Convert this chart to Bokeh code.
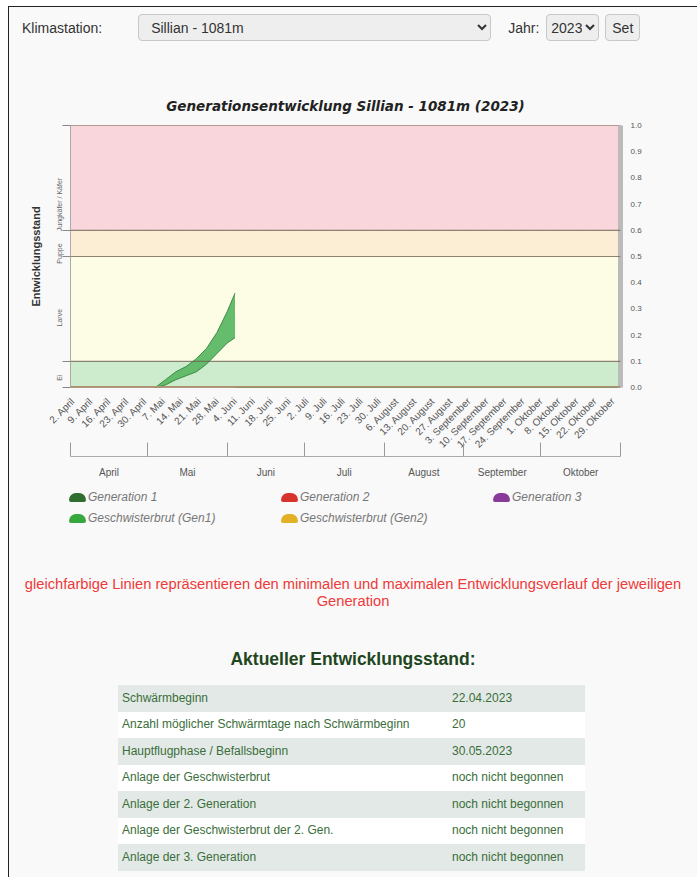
import pandas as pd
from math import pi
from bokeh.plotting import figure
from bokeh.models import (Range1d, LinearAxis, FixedTicker, Div,
                          BoxAnnotation, Span, ColumnDataSource)
from bokeh.layouts import column
from bokeh.embed import file_html
from bokeh.resources import INLINE

# ---------------- data ----------------
station = "Sillian - 1081m"
year = "2023"
chart_title = "Generationsentwicklung Sillian - 1081m (2023)"

week_ticks = ["2023-04-02", "2023-04-09", "2023-04-16", "2023-04-23", "2023-04-30",
              "2023-05-07", "2023-05-14", "2023-05-21", "2023-05-28",
              "2023-06-04", "2023-06-11", "2023-06-18", "2023-06-25",
              "2023-07-02", "2023-07-09", "2023-07-16", "2023-07-23", "2023-07-30",
              "2023-08-06", "2023-08-13", "2023-08-20", "2023-08-27",
              "2023-09-03", "2023-09-10", "2023-09-17", "2023-09-24",
              "2023-10-01", "2023-10-08", "2023-10-15", "2023-10-22", "2023-10-29"]
week_labels = ["2. April", "9. April", "16. April", "23. April", "30. April",
               "7. Mai", "14. Mai", "21. Mai", "28. Mai",
               "4. Juni", "11. Juni", "18. Juni", "25. Juni",
               "2. Juli", "9. Juli", "16. Juli", "23. Juli", "30. Juli",
               "6. August", "13. August", "20. August", "27. August",
               "3. September", "10. September", "17. September", "24. September",
               "1. Oktober", "8. Oktober", "15. Oktober", "22. Oktober", "29. Oktober"]

month_bounds = ["2023-04-01", "2023-05-01", "2023-06-01", "2023-07-01",
                "2023-08-01", "2023-09-01", "2023-10-01", "2023-11-01"]
month_names = ["April", "Mai", "Juni", "Juli", "August", "September", "Oktober"]

stage_bounds = [0.0, 0.1, 0.5, 0.6, 1.0]
stage_names = ["Ei", "Larve", "Puppe", "Jungkäfer / Käfer"]
right_ticks = [0.0, 0.1, 0.2, 0.3, 0.4, 0.5, 0.6, 0.7, 0.8, 0.9, 1.0]

gen1_dates = ["2023-05-04", "2023-05-08", "2023-05-12", "2023-05-16", "2023-05-20",
              "2023-05-24", "2023-05-28", "2023-06-01", "2023-06-04"]
gen1_min = [0.0, 0.01, 0.03, 0.045, 0.06, 0.09, 0.13, 0.17, 0.19]
gen1_max = [0.0, 0.03, 0.06, 0.08, 0.11, 0.15, 0.21, 0.29, 0.36]

gesch1_dates = ["2023-06-04", "2023-10-31"]
gesch1_vals = [0.0, 0.0]

legend_row1 = ["Generation 1", "Generation 2", "Generation 3"]
legend_row2 = ["Geschwisterbrut (Gen1)", "Geschwisterbrut (Gen2)"]

note_text = ("gleichfarbige Linien repräsentieren den minimalen und maximalen "
             "Entwicklungsverlauf der jeweiligen Generation")
status_title = "Aktueller Entwicklungsstand:"
status_keys = ["Schwärmbeginn", "Anzahl möglicher Schwärmtage nach Schwärmbeginn",
               "Hauptflugphase / Befallsbeginn", "Anlage der Geschwisterbrut",
               "Anlage der 2. Generation", "Anlage der Geschwisterbrut der 2. Gen.",
               "Anlage der 3. Generation"]
status_vals = ["22.04.2023", "20", "30.05.2023", "noch nicht begonnen",
               "noch nicht begonnen", "noch nicht begonnen", "noch nicht begonnen"]

# ---------------- styles ----------------
FONT = "Liberation Sans"
BG = "#f9f9f9"
stage_colors = ["#cdebcd", "#fdfde6", "#fcedd5", "#f9d6dc"]
row1_colors = ["#2f6e2f", "#d8322c", "#8a3a9a"]
row2_colors = ["#36a83e", "#e2b025"]


def ms(d):
    return int(pd.Timestamp(d).value // 10**6)


wt = [ms(d) for d in week_ticks]
mb = [ms(d) for d in month_bounds]
mm = [(a + b) // 2 for a, b in zip(mb[:-1], mb[1:])]

p = figure(x_axis_type="datetime", y_axis_location="right",
           width=678, height=412,
           x_range=Range1d(mb[0], mb[-1]), y_range=Range1d(0, 1),
           output_backend="svg", toolbar_location=None,
           min_border_left=61, min_border_right=67, min_border_top=56, min_border_bottom=94,
           background_fill_color=stage_colors[1], border_fill_color=BG,
           outline_line_color="#9a8a7a")

p.title.text = chart_title
p.title.align = "center"
p.title.text_font = "DejaVu Sans"
p.title.text_font_style = "bold italic"
p.title.text_font_size = "13.5px"
p.title.text_color = "#222222"
p.title.standoff = 24

# stage bands
for b0, b1, c in zip(stage_bounds[:-1], stage_bounds[1:], stage_colors):
    p.add_layout(BoxAnnotation(bottom=b0, top=b1, fill_color=c, fill_alpha=1.0,
                               line_color=None, level="underlay"))
for b in stage_bounds[1:-1]:
    p.add_layout(Span(location=b, dimension="width", line_color="#6e6050",
                      line_alpha=0.75, line_width=1.2))
p.add_layout(Span(location=0, dimension="width", line_color="#b0906e",
                  line_width=3))

# grids
p.xgrid.grid_line_color = "#8a7a6a"
p.xgrid.grid_line_alpha = 0.55
p.ygrid.grid_line_color = "#8a7a6a"
p.ygrid.grid_line_alpha = 0.45

# right axis (default y axis)
ry = p.yaxis[0]
ry.ticker = FixedTicker(ticks=right_ticks)
ry.major_label_overrides = {t: f"{t:.1f}" for t in right_ticks}
ry.axis_line_color = "#bbbbbb"
ry.axis_line_width = 5
ry.major_tick_line_color = None
ry.minor_tick_line_color = None
ry.major_label_text_font = FONT
ry.major_label_text_font_size = "8px"
ry.major_label_text_color = "#555555"
ry.major_label_standoff = 4

# left stage axis
ly = LinearAxis(ticker=FixedTicker(ticks=[(a + b) / 2 for a, b in zip(stage_bounds[:-1], stage_bounds[1:])],
                                   minor_ticks=stage_bounds),
                major_label_overrides={(a + b) / 2: n for a, b, n in
                                       zip(stage_bounds[:-1], stage_bounds[1:], stage_names)},
                major_label_orientation=pi / 2,
                axis_label="Entwicklungsstand")
ly.major_tick_line_color = None
ly.minor_tick_in = 0
ly.minor_tick_out = 8
ly.minor_tick_line_color = "#888888"
ly.axis_line_color = "#aaaaaa"
ly.major_label_text_font = FONT
ly.major_label_text_font_size = "7px"
ly.major_label_text_color = "#666666"
ly.major_label_standoff = 3
ly.axis_label_text_font = FONT
ly.axis_label_text_font_style = "bold"
ly.axis_label_text_font_size = "11px"
ly.axis_label_text_color = "#333333"
ly.axis_label_standoff = 8
p.add_layout(ly, "left")

# date axis
dx = p.xaxis[0]
dx.ticker = FixedTicker(ticks=wt)
dx.major_label_overrides = {t: l for t, l in zip(wt, week_labels)}
dx.major_label_orientation = pi / 4
dx.major_label_text_font = FONT
dx.major_label_text_font_size = "10px"
dx.major_label_text_color = "#555555"
dx.axis_line_color = None
dx.major_tick_line_color = None
dx.minor_tick_line_color = None
dx.major_label_standoff = 6

# month axis
mx = LinearAxis(ticker=FixedTicker(ticks=mm, minor_ticks=mb),
                major_label_overrides={t: n for t, n in zip(mm, month_names)})
mx.major_tick_line_color = None
mx.minor_tick_in = 14
mx.minor_tick_out = 0
mx.minor_tick_line_color = "#999999"
mx.axis_line_color = "#aaaaaa"
mx.major_label_text_font = FONT
mx.major_label_text_font_size = "10px"
mx.major_label_text_color = "#555555"
mx.major_label_standoff = 4
p.add_layout(mx, "below")

# data
src = ColumnDataSource(dict(x=pd.to_datetime(gen1_dates), lo=gen1_min, hi=gen1_max))
p.varea(x="x", y1="lo", y2="hi", source=src, fill_color="#5db865", fill_alpha=0.95)
p.line(x="x", y="lo", source=src, line_color="#3d8b45", line_width=1)
p.line(x="x", y="hi", source=src, line_color="#3d8b45", line_width=1)
p.line(x=pd.to_datetime(gesch1_dates), y=gesch1_vals, line_color="#3d8b45", line_width=2)

# ---------------- legend (HTML) ----------------
def leg_item(label, color):
    return (f'<div style="display:flex;align-items:center;width:212px;">'
            f'<span style="display:inline-block;width:17px;height:9px;background:{color};'
            f'border-radius:7px 7px 2px 2px;margin-right:2px;"></span>'
            f'<span>{label}</span></div>')


leg_rows = ""
for labels, cols in ((legend_row1, row1_colors), (legend_row2, row2_colors)):
    leg_rows += ('<div style="display:flex;height:21px;align-items:center;">'
                 + "".join(leg_item(l, c) for l, c in zip(labels, cols)) + '</div>')
legend_div = Div(width=678, height=56, text=f"""
<div style="font-family:'Liberation Sans',Arial;font-size:12px;font-style:italic;color:#777;padding:1px 0 0 55px;">
{leg_rows}
</div>""")

# ---------------- html parts ----------------
sel = ("height:27px;font-size:14px;border:1px solid #c8c8c8;border-radius:4px;"
       "background:#eeeeee;color:#333;font-family:'Liberation Sans',Arial;")
top_div = Div(width=678, height=52, text=f"""
<div style="display:flex;align-items:center;font-family:'Liberation Sans',Arial;font-size:14px;color:#333;padding:2px 0 0 8px;">
<span>Klimastation:</span>
<select style="margin-left:36px;width:353px;padding-left:8px;{sel}">
<option>{station}</option></select>
<span style="margin-left:17px">Jahr:</span>
<select style="margin-left:7px;width:53px;{sel}">
<option>{year}</option></select>
<button style="margin-left:6px;{sel}">Set</button>
</div>""")

rows = ""
for i, (k, v) in enumerate(zip(status_keys, status_vals)):
    bg = "#e3e9e7" if i % 2 == 0 else "#ffffff"
    rows += (f'<tr style="background:{bg};height:26.5px;"><td style="padding-left:4px;width:333px;">{k}</td>'
             f'<td>{v}</td></tr>')

bottom_div = Div(width=678, height=336, text=f"""
<div style="font-family:'Liberation Sans',Arial;width:678px;">
<div style="color:#ee3a3a;font-size:14.7px;line-height:17px;text-align:center;padding:24px 4px 0 4px;">{note_text}</div>
<div style="color:#1e4620;font-size:17.5px;font-weight:bold;text-align:center;margin-top:40px;line-height:18px;">{status_title}</div>
<table style="margin:17px 0 0 104px;width:467px;border-collapse:collapse;font-size:12px;color:#3a6e3a;">
{rows}
</table>
</div>""")

layout = column(top_div, p, legend_div, bottom_div,
                styles={"border": "1px solid #222222", "background-color": BG,
                        "margin-left": "8px", "margin-top": "6px"})

open("out.html", "w").write(file_html(layout, INLINE))
